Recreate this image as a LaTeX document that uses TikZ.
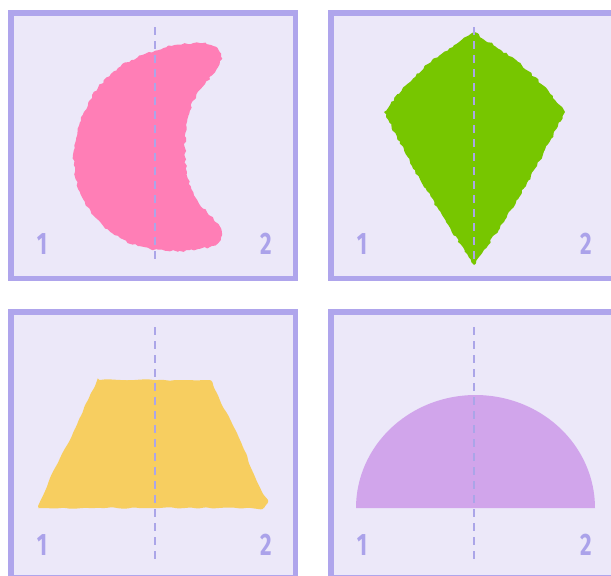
\documentclass[tikz,border=0pt]{standalone}
\usepackage{fontspec}
\setmainfont{Fira Sans}
\usetikzlibrary{decorations.pathmorphing}
\definecolor{panelbg}{HTML}{ECE8F9}
\definecolor{panelframe}{HTML}{AFA5EC}
\definecolor{numcol}{HTML}{ABA2EA}
\definecolor{dashcol}{HTML}{ABA5E8}
\definecolor{pinkfill}{HTML}{FF7EB6}
\definecolor{greenfill}{HTML}{77C600}
\definecolor{yellowfill}{HTML}{F7CE60}
\definecolor{lilacfill}{HTML}{D1A5EB}
\tikzset{
  panel/.style={fill=panelbg, draw=panelframe, line width=5.5pt},
  axisline/.style={draw=dashcol, line width=1.9pt, dash pattern=on 8pt off 6pt},
  numlabel/.style={text=numcol, font=\fontsize{31}{31}\selectfont\bfseries, inner sep=0pt},
  rough/.style={decorate, decoration={random steps, segment length=3pt, amplitude=1.1pt}},
  wavy/.style={decorate, decoration={random steps, segment length=7pt, amplitude=0.9pt}, rounded corners=2.5pt}
}
\begin{document}
\pgfmathsetseed{7}
\begin{tikzpicture}[x=1pt, y=-1pt]
\useasboundingbox (0,0) rectangle (611,576);
\clip (0,0) rectangle (611,576);
\fill[white] (0,0) rectangle (611,576);
% panels
\draw[panel] (10.75,12.75) rectangle (295.25,278.25);
\draw[panel] (330.75,12.75) rectangle (615.25,278.25);
\draw[panel] (10.75,311.75) rectangle (295.25,577.25);
\draw[panel] (330.75,311.75) rectangle (615.25,577.25);
% crescent
\fill[pinkfill, rough] plot[smooth cycle, tension=0.6] coordinates {
 (216,47) (203,43) (175,45) (145,54) (118,68) (98,88) (84,112) (76,140) (74,165)
 (80,192) (93,215) (112,233) (138,246) (168,251) (198,249) (218,243) (221,229)
 (207,212) (194,195) (187,172) (185,148) (187,122) (194,100) (205,84) (216,70) (221,57)};
% kite
\fill[greenfill, rough] (474,32) -- (432,60) -- (405,86) -- (384,112) -- (412,166) -- (446,222) -- (474,265) -- (504,222) -- (537,166) -- (565,112) -- (544,86) -- (516,60) -- cycle;
% trapezoid
\fill[yellowfill, wavy] (97,380) -- (210,380) -- (240,440) -- (262,492) -- (268,500) -- (264,508) -- (150,508) -- (38,508) -- (50,478) -- (70,440) -- cycle;
% semicircle
\fill[lilacfill] plot[domain=180:360, samples=80] ({475.5+119.5*cos(\x)},{508+113*sin(\x)}) -- cycle;
% axes
\draw[axisline] (155,27) -- (155,264);
\draw[axisline] (474,27) -- (474,264);
\draw[axisline] (155,327) -- (155,563);
\draw[axisline] (474,327) -- (474,563);
% labels
\node[numlabel] (a1) at (42,244) {\scalebox{0.72}[1]{1}};
\node[numlabel] (a2) at (266,244) {\scalebox{0.72}[1]{2}};
\node[numlabel] (b1) at (362,244) {\scalebox{0.72}[1]{1}};
\node[numlabel] (b2) at (586,244) {\scalebox{0.72}[1]{2}};
\node[numlabel] (c1) at (42,545) {\scalebox{0.72}[1]{1}};
\node[numlabel] (c2) at (266,545) {\scalebox{0.72}[1]{2}};
\node[numlabel] (d1) at (362,545) {\scalebox{0.72}[1]{1}};
\node[numlabel] (d2) at (586,545) {\scalebox{0.72}[1]{2}};
\end{tikzpicture}
\end{document}
